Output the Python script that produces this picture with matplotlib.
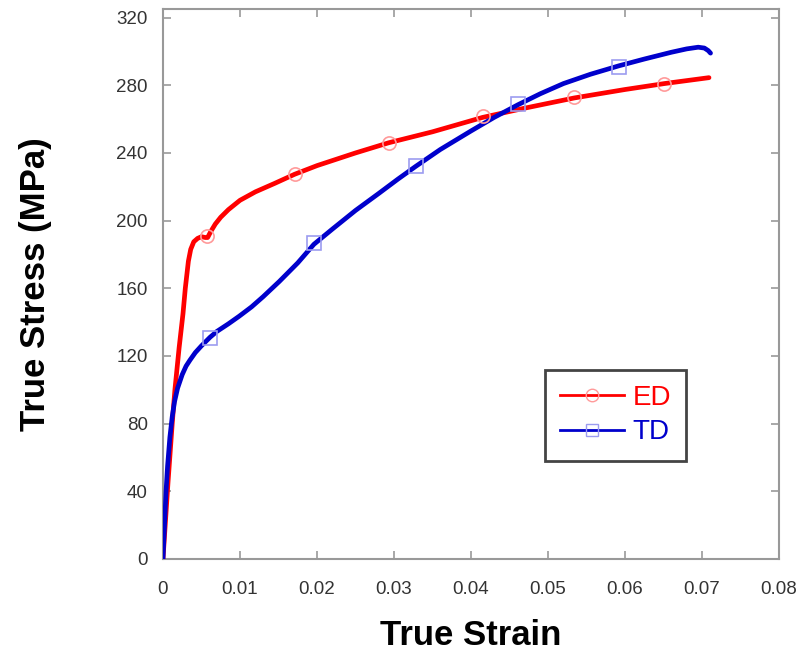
import matplotlib.pyplot as plt
from matplotlib.lines import Line2D

plt.rcParams["font.family"] = ["Liberation Sans", "DejaVu Sans"]

# ED curve (extrusion direction)
ed_strain = [0, 0.00065, 0.0012, 0.00155, 0.0021, 0.0026, 0.0029, 0.0031, 0.0033,
             0.0036, 0.004, 0.0045, 0.005, 0.0055, 0.0058, 0.0062, 0.0068, 0.0075,
             0.0085, 0.01, 0.012, 0.0145, 0.0171, 0.02, 0.025, 0.0293, 0.035,
             0.0415, 0.047, 0.0534, 0.06, 0.0651, 0.0709]
ed_stress = [0, 45, 80, 100, 125, 145, 160, 168, 176, 183, 187.5, 189.5, 190.5,
             190, 190, 193.5, 198, 202, 206.5, 212, 217, 222, 227.4, 232.5, 240,
             246, 252.5, 261, 266.5, 272.5, 277.5, 281, 284.5]
ed_mark_strain = [0.0057, 0.0171, 0.0293, 0.0415, 0.0534, 0.0651]
ed_mark_stress = [190.8, 227.4, 246, 261.7, 273, 281]

# TD curve (transverse direction)
td_strain = [0, 0.0002, 0.0004, 0.0006, 0.0009, 0.0012, 0.0015, 0.0019, 0.0025,
             0.003, 0.0035, 0.0042, 0.005, 0.0061, 0.007, 0.0085, 0.0099, 0.0115,
             0.013, 0.0151, 0.0175, 0.0196, 0.022, 0.025, 0.028, 0.0305, 0.0328,
             0.036, 0.04, 0.043, 0.0461, 0.049, 0.052, 0.0555, 0.0592, 0.0625,
             0.066, 0.068, 0.0695, 0.0703, 0.0708, 0.0711]
td_stress = [0, 20, 40, 55, 72, 84, 93, 101, 109, 114, 117.5, 122, 126, 131, 134.5,
             139, 143.5, 149, 155, 164, 175, 186, 195, 206, 216, 224.5, 232, 242,
             253, 261, 268.5, 275, 281, 286.5, 291.5, 295.5, 299.5, 301.5, 302.5,
             302, 300.5, 299]
td_mark_strain = [0.0061, 0.0196, 0.0328, 0.0461, 0.0592]
td_mark_stress = [130.5, 187, 232, 268.7, 291]

x_ticks = [0, 0.01, 0.02, 0.03, 0.04, 0.05, 0.06, 0.07, 0.08]
y_ticks = [0, 40, 80, 120, 160, 200, 240, 280, 320]

fig = plt.figure(figsize=(8.04, 6.53), dpi=100)
ax = fig.add_axes([0.2027, 0.144, 0.7663, 0.842])

ax.plot(ed_strain, ed_stress, color="#ff0000", lw=3.4, solid_capstyle="round",
        solid_joinstyle="round", zorder=3)
ax.plot(td_strain, td_stress, color="#0000cc", lw=3.4, solid_capstyle="round",
        solid_joinstyle="round", zorder=3.5)
ax.plot(ed_mark_strain, ed_mark_stress, "o", ms=9.5, mfc="none", mec="#ff9a9a",
        mew=1.2, zorder=4)
ax.plot(td_mark_strain, td_mark_stress, "s", ms=9.5, mfc="none", mec="#9c9cf0",
        mew=1.2, zorder=4)

ax.set_xlim(0, 0.0796)
ax.set_ylim(0, 325)
ax.set_xticks(x_ticks)
ax.set_yticks(y_ticks)
ax.set_xticklabels([f"{t:g}" for t in x_ticks])
ax.tick_params(direction="in", length=6, width=1.2, color="#999999",
               labelcolor="#333333", labelsize=13.5, top=True, right=True)
ax.tick_params(axis="x", pad=16)
ax.tick_params(axis="y", pad=11)
for spine in ax.spines.values():
    spine.set_color("#999999")
    spine.set_linewidth(1.5)

ax.set_xlabel("True Strain", fontsize=25, fontweight="bold")
ax.set_ylabel("True Stress (MPa)", fontsize=25, fontweight="bold")
ax.xaxis.set_label_coords(0.5, -0.11)
ax.yaxis.set_label_coords(-0.180, 0.5)

handles = [
    Line2D([], [], color="#ff0000", lw=2, marker="o", ms=9, mfc="none", mec="#ff9a9a"),
    Line2D([], [], color="#0000cc", lw=2, marker="s", ms=9, mfc="none", mec="#9c9cf0"),
]
leg = ax.legend(handles, ["ED", "TD"], loc="upper left",
                bbox_to_anchor=(0.620, 0.344), borderaxespad=0, fontsize=20,
                handlelength=2.3, handletextpad=0.3, labelspacing=0.3,
                borderpad=0.55, fancybox=False, framealpha=1)
leg.get_frame().set_edgecolor("#444444")
leg.get_frame().set_linewidth(2)
for txt, c in zip(leg.get_texts(), ["#ff0000", "#0000cc"]):
    txt.set_color(c)

fig.savefig("out.png", dpi=100)
